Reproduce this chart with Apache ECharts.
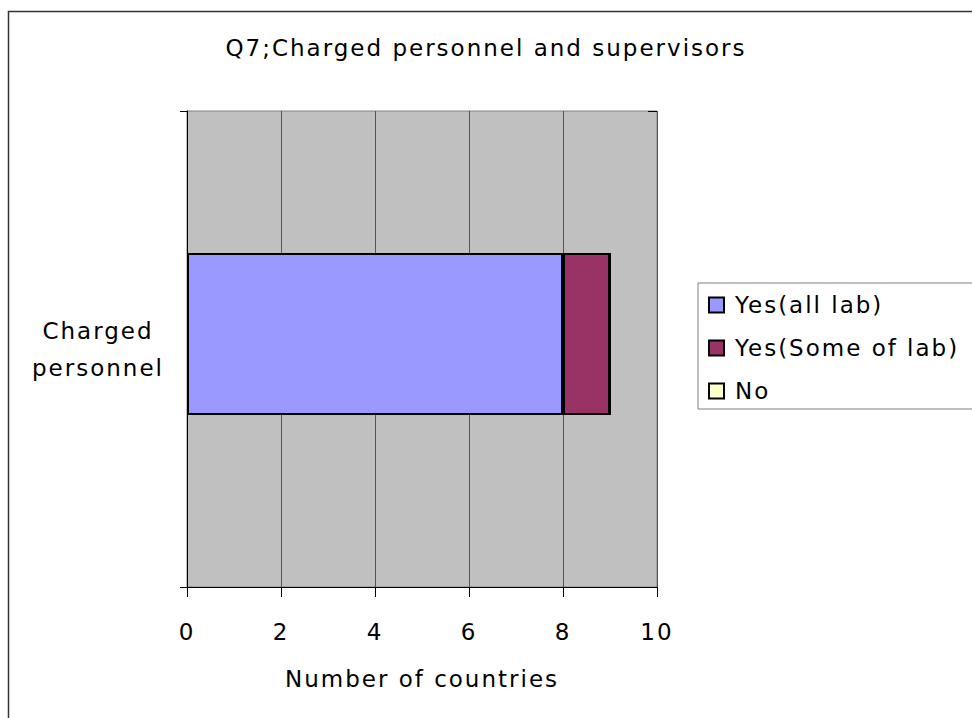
<!DOCTYPE html>
<html>
<head>
<meta charset="utf-8">
<script src="https://cdn.jsdelivr.net/npm/echarts@6/dist/echarts.min.js"></script>
<style>
html,body{margin:0;padding:0;background:#fff;}
#c{width:972px;height:718px;letter-spacing:2px;}
</style>
</head>
<body>
<div id="c"></div>
<script>
var titleText = 'Q7;Charged personnel and supervisors';
var categories = ['Charged personnel'];
var seriesNames = ['Yes(all lab)', 'Yes(Some of lab)', 'No'];
var yesAll = [8];
var yesSome = [1];
var no = [0];
var xTicks = [0, 2, 4, 6, 8, 10];
var xAxisName = 'Number of countries';

var FONT = 'DejaVu Sans';
var FS = 23;
var colors = ['#9999FF', '#993366', '#FFFFCC'];

var chart = echarts.init(document.getElementById('c'), null, { renderer: 'svg' });
var seriesData = [yesAll, yesSome, no];
var series = seriesNames.map(function (n, i) {
  return {
    name: n,
    type: 'bar',
    stack: 'total',
    xAxisIndex: 1,
    yAxisIndex: 1,
    barWidth: 162,
    data: seriesData[i],
    itemStyle: { color: colors[i], borderColor: '#000', borderWidth: 2 },
    emphasis: { disabled: true }
  };
});

chart.setOption({
  animation: false,
  textStyle: { fontFamily: FONT },
  title: {
    text: titleText,
    left: 'center',
    top: 36,
    padding: 0,
    textStyle: { fontFamily: FONT, fontSize: FS, fontWeight: 'normal', color: '#000', lineHeight: 24 }
  },
  graphic: [{
    type: 'rect',
    silent: true,
    z: -10,
    shape: { x: 8.5, y: 11.5, width: 1000, height: 1000 },
    style: { fill: 'none', stroke: '#333', lineWidth: 1.5 }
  }],
  legend: {
    orient: 'vertical',
    left: 698,
    top: 283,
    padding: [10, 80, 6, 10],
    itemGap: 19,
    itemWidth: 15,
    itemHeight: 15,
    icon: 'rect',
    backgroundColor: '#fff',
    borderColor: '#808080',
    borderWidth: 1,
    selectedMode: false,
    data: seriesNames,
    textStyle: { fontFamily: FONT, fontSize: FS, color: '#000', lineHeight: 24, padding: [0, 0, 0, 6] }
  },
  grid: [
    { left: 187, top: 111, width: 470, height: 476, show: true, backgroundColor: '#C0C0C0', borderColor: '#808080', borderWidth: 1 },
    { left: 187, top: 96, width: 470, height: 476, show: false }
  ],
  xAxis: [{
    gridIndex: 0,
    type: 'value',
    min: xTicks[0],
    max: xTicks[xTicks.length - 1],
    interval: xTicks[1] - xTicks[0],
    name: xAxisName,
    nameLocation: 'middle',
    nameGap: 80,
    nameTextStyle: { fontFamily: FONT, fontSize: FS, color: '#000', lineHeight: 24 },
    axisLine: { show: true, lineStyle: { color: '#000', width: 1 } },
    axisTick: { show: true, length: 10, lineStyle: { color: '#000' } },
    axisLabel: { margin: 33, fontFamily: FONT, fontSize: FS, color: '#000', lineHeight: 24 },
    splitLine: { show: true, lineStyle: { color: '#555', width: 1 } }
  }, {
    gridIndex: 1,
    type: 'value',
    min: xTicks[0],
    max: xTicks[xTicks.length - 1],
    show: false
  }],
  yAxis: [{
    gridIndex: 0,
    type: 'category',
    data: categories,
    axisLine: { show: true, lineStyle: { color: '#000', width: 1 } },
    axisTick: { show: true, length: 7, lineStyle: { color: '#000' } },
    axisLabel: {
      margin: 89,
      align: 'center',
      fontFamily: FONT, fontSize: FS, color: '#000', lineHeight: 37,
      formatter: function (v) { return v.replace(' ', '\n'); }
    },
    splitLine: { show: false }
  }, {
    gridIndex: 1,
    type: 'category',
    data: categories,
    show: false
  }, {
    gridIndex: 0,
    type: 'category',
    data: categories,
    axisLine: { show: false },
    axisTick: { show: true, inside: true, length: 9, lineStyle: { color: '#000' } },
    axisLabel: { show: false },
    splitLine: { show: false }
  }],
  series: series
});
</script>
</body>
</html>
